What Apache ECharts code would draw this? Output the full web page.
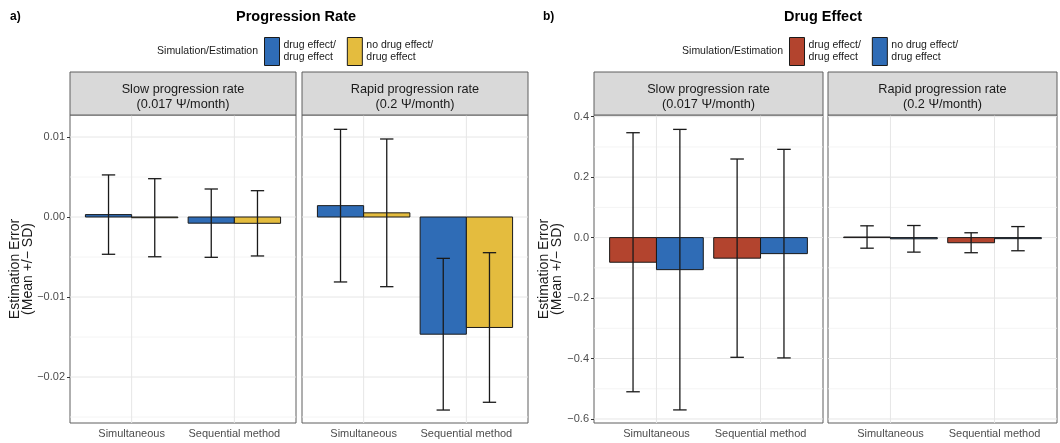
<!DOCTYPE html>
<html>
<head>
<meta charset="utf-8">
<title>Estimation error by method</title>
<script src="https://cdn.jsdelivr.net/npm/echarts@6/dist/echarts.min.js"></script>
<style>
  html, body { margin: 0; padding: 0; background: #fff; }
  #chart { width: 1060px; height: 443px; }
</style>
</head>
<body>
<div id="chart"></div>
<script>
// ---- data -------------------------------------------------------------
const methods = ['Simultaneous', 'Sequential method'];
const facetLabels = ['Slow progression rate\n(0.017 Ψ/month)', 'Rapid progression rate\n(0.2 Ψ/month)'];
const groupLabels = ['drug effect/\ndrug effect', 'no drug effect/\ndrug effect'];

// a) progression-rate estimation error, [Simultaneous, Sequential]
const rateSlowDrugMean = [0.0003, -0.00077];
const rateSlowDrugSD = [0.00496, 0.00427];
const rateSlowNoDrugMean = [-0.00009, -0.00079];
const rateSlowNoDrugSD = [0.00488, 0.00408];
const rateRapidDrugMean = [0.00142, -0.01465];
const rateRapidDrugSD = [0.00954, 0.00948];
const rateRapidNoDrugMean = [0.00052, -0.01381];
const rateRapidNoDrugSD = [0.00923, 0.00935];

// b) drug-effect estimation error, [Simultaneous, Sequential]
const effSlowDrugMean = [-0.0815, -0.068];
const effSlowDrugSD = [0.4285, 0.328];
const effSlowNoDrugMean = [-0.106, -0.053];
const effSlowNoDrugSD = [0.464, 0.345];
const effRapidDrugMean = [0.002, -0.017];
const effRapidDrugSD = [0.037, 0.033];
const effRapidNoDrugMean = [-0.004, -0.0035];
const effRapidNoDrugSD = [0.044, 0.04];

// tick values
const rateTicks = [-0.02, -0.01, 0, 0.01];
const rateMinorTicks = [-0.025, -0.015, -0.005, 0.005];
const effTicks = [-0.6, -0.4, -0.2, 0, 0.2, 0.4];
const effMinorTicks = [-0.5, -0.3, -0.1, 0.1, 0.3];
const methodTicks = [1, 2];

// ---- styling ----------------------------------------------------------
const FONT = 'Liberation Sans, Arial, Helvetica, sans-serif';
const BLUE = '#2F6CB6';
const YELLOW = '#E4BC3E';
const RED = '#B3442E';
const DODGE = 0.225;      // half of bar width (in x units)
const WHISKER = 0.065;    // half whisker width

const PANEL_TOP = 115, PANEL_H = 308, STRIP_TOP = 72;
const panels = [
  { left: 70,  width: 226, fig: 'a', facet: 0 },
  { left: 302, width: 226, fig: 'a', facet: 1 },
  { left: 594, width: 229, fig: 'b', facet: 0 },
  { left: 828, width: 229, fig: 'b', facet: 1 }
];
const yRange = {
  a: { min: -0.02575, max: 0.01275, ticks: rateTicks, minor: rateMinorTicks, digits: 2 },
  b: { min: -0.6133, max: 0.4056, ticks: effTicks, minor: effMinorTicks, digits: 1 }
};

const minus = s => s.replace('-', '\u2212');

// ---- option construction ---------------------------------------------
const grid = [], xAxis = [], yAxis = [], series = [], graphic = [];

panels.forEach((p, i) => {
  const r = yRange[p.fig];
  const isLeft = p.facet === 0;
  grid.push({
    left: p.left, top: PANEL_TOP, width: p.width, height: PANEL_H,
    show: true, borderColor: '#5e5e5e', borderWidth: 1, backgroundColor: '#fff', z: 0
  });
  xAxis.push({
    type: 'value', gridIndex: i, min: 0.4, max: 2.6,
    axisLine: { show: false },
    splitLine: { show: false },
    axisTick: { show: true, customValues: methodTicks, length: 3, lineStyle: { color: '#333' } },
    axisLabel: {
      show: true, customValues: methodTicks, margin: 5,
      formatter: v => methods[Math.round(v) - 1] || '',
      color: '#4D4D4D', fontSize: 11, fontFamily: FONT
    }
  });
  yAxis.push({
    type: 'value', gridIndex: i, min: r.min, max: r.max,
    axisLine: { show: false },
    splitLine: { show: false },
    axisTick: { show: isLeft, customValues: r.ticks, length: 3, lineStyle: { color: '#333' } },
    axisLabel: {
      show: isLeft, customValues: r.ticks, margin: 5,
      formatter: v => minus(v.toFixed(r.digits)),
      color: '#4D4D4D', fontSize: 11, fontFamily: FONT
    }
  });

  // background grid lines (major + minor horizontal, vertical at methods)
  const gridLines = []
    .concat(r.minor.map(v => ['h', v, 0]))
    .concat(r.ticks.map(v => ['h', v, 1]))
    .concat(methodTicks.map(v => ['v', v, 1]));
  series.push({
    type: 'custom', name: 'grid' + i, xAxisIndex: i, yAxisIndex: i, silent: true, z: 1,
    data: gridLines.map((g, k) => [k]),
    renderItem: (params, api) => {
      const g = gridLines[params.dataIndex];
      let a, b;
      if (g[0] === 'h') { a = api.coord([0.4, g[1]]); b = api.coord([2.6, g[1]]); }
      else { a = api.coord([g[1], r.min]); b = api.coord([g[1], r.max]); }
      return {
        type: 'line',
        shape: { x1: a[0], y1: a[1], x2: b[0], y2: b[1] },
        style: { stroke: g[2] ? '#E6E6E6' : '#F1F1F1', lineWidth: g[2] ? 1 : 0.8 }
      };
    }
  });

  // strip header
  graphic.push({
    type: 'rect', z: 5,
    shape: { x: p.left, y: STRIP_TOP, width: p.width, height: PANEL_TOP - STRIP_TOP },
    style: { fill: '#D9D9D9', stroke: '#5e5e5e', lineWidth: 1 }
  });
  graphic.push({
    type: 'text', z: 6, x: p.left + p.width / 2, y: (STRIP_TOP + PANEL_TOP) / 2 + 3,
    style: {
      text: facetLabels[p.facet], align: 'center', verticalAlign: 'middle',
      fontSize: 12.7, lineHeight: 15, fontFamily: FONT, fill: '#1A1A1A'
    }
  });
});

// bar + error-bar series
function barSeries(name, gridIdx, slot, means, sds, color) {
  const offset = slot === 0 ? -DODGE : DODGE;
  return {
    type: 'custom', name: name, xAxisIndex: gridIdx, yAxisIndex: gridIdx, z: 3,
    itemStyle: { color: color },
    data: methods.map((m, k) => [k + 1 + offset, means[k], sds[k]]),
    renderItem: (params, api) => {
      const x = api.value(0), mean = api.value(1), sd = api.value(2);
      const p0 = api.coord([x - DODGE, 0]);
      const p1 = api.coord([x + DODGE, mean]);
      const top = api.coord([x, mean + sd]);
      const bot = api.coord([x, mean - sd]);
      const wl = api.coord([x - WHISKER, mean])[0];
      const wr = api.coord([x + WHISKER, mean])[0];
      const errStyle = { stroke: '#1a1a1a', lineWidth: 1.3 };
      return {
        type: 'group',
        children: [
          {
            type: 'rect',
            shape: { x: p0[0], y: Math.min(p0[1], p1[1]), width: p1[0] - p0[0], height: Math.abs(p1[1] - p0[1]) },
            style: { fill: api.visual('color'), stroke: '#1a1a1a', lineWidth: 1 }
          },
          { type: 'line', z2: 2, shape: { x1: top[0], y1: top[1], x2: bot[0], y2: bot[1] }, style: errStyle },
          { type: 'line', z2: 2, shape: { x1: wl, y1: top[1], x2: wr, y2: top[1] }, style: errStyle },
          { type: 'line', z2: 2, shape: { x1: wl, y1: bot[1], x2: wr, y2: bot[1] }, style: errStyle }
        ]
      };
    }
  };
}

series.push(barSeries('rateDrug', 0, 0, rateSlowDrugMean, rateSlowDrugSD, BLUE));
series.push(barSeries('rateNoDrug', 0, 1, rateSlowNoDrugMean, rateSlowNoDrugSD, YELLOW));
series.push(barSeries('rateDrug', 1, 0, rateRapidDrugMean, rateRapidDrugSD, BLUE));
series.push(barSeries('rateNoDrug', 1, 1, rateRapidNoDrugMean, rateRapidNoDrugSD, YELLOW));
series.push(barSeries('effDrug', 2, 0, effSlowDrugMean, effSlowDrugSD, RED));
series.push(barSeries('effNoDrug', 2, 1, effSlowNoDrugMean, effSlowNoDrugSD, BLUE));
series.push(barSeries('effDrug', 3, 0, effRapidDrugMean, effRapidDrugSD, RED));
series.push(barSeries('effNoDrug', 3, 1, effRapidNoDrugMean, effRapidNoDrugSD, BLUE));

// titles, panel tags, y-axis titles, legend titles
const figText = [
  { tag: 'a)', tagX: 10, title: 'Progression Rate', titleX: 296, yTitleX: 22, legendTitleRight: 258 },
  { tag: 'b)', tagX: 543, title: 'Drug Effect', titleX: 823, yTitleX: 551, legendTitleRight: 783 }
];
figText.forEach(f => {
  graphic.push({
    type: 'text', x: f.tagX, y: 17,
    style: { text: f.tag, fontSize: 12, fontWeight: 'bold', fontFamily: FONT, fill: '#000', verticalAlign: 'middle' }
  });
  graphic.push({
    type: 'text', x: f.titleX, y: 17,
    style: { text: f.title, fontSize: 14.5, fontWeight: 'bold', fontFamily: FONT, fill: '#000', align: 'center', verticalAlign: 'middle' }
  });
  graphic.push({
    type: 'text', x: f.legendTitleRight, y: 51,
    style: { text: 'Simulation/Estimation', fontSize: 10.5, fontFamily: FONT, fill: '#1A1A1A', align: 'right', verticalAlign: 'middle' }
  });
  graphic.push({
    type: 'text', x: f.yTitleX, y: PANEL_TOP + PANEL_H / 2, rotation: Math.PI / 2,
    style: {
      text: 'Estimation Error\n(Mean +/\u2212 SD)', fontSize: 14, lineHeight: 13, fontFamily: FONT,
      fill: '#1A1A1A', align: 'center', verticalAlign: 'middle'
    }
  });
});

const legendCommon = {
  orient: 'horizontal', top: 32, itemWidth: 15, itemHeight: 28, itemGap: 11,
  icon: 'rect', selectedMode: false,
  itemStyle: { borderColor: '#1a1a1a', borderWidth: 1 },
  textStyle: { fontSize: 10.5, lineHeight: 12, fontFamily: FONT, color: '#1A1A1A', padding: [0, 0, 0, -1] },
  formatter: name => groupLabels[name.endsWith('NoDrug') ? 1 : 0]
};
const legend = [
  Object.assign({}, legendCommon, {
    left: 259,
    data: [{ name: 'rateDrug', itemStyle: { color: BLUE } }, { name: 'rateNoDrug', itemStyle: { color: YELLOW } }]
  }),
  Object.assign({}, legendCommon, {
    left: 784,
    data: [{ name: 'effDrug', itemStyle: { color: RED } }, { name: 'effNoDrug', itemStyle: { color: BLUE } }]
  })
];

const chart = echarts.init(document.getElementById('chart'), null, { renderer: 'canvas' });
chart.setOption({
  animation: false,
  backgroundColor: '#fff',
  textStyle: { fontFamily: FONT },
  grid, xAxis, yAxis, series, legend, graphic
});
</script>
</body>
</html>
